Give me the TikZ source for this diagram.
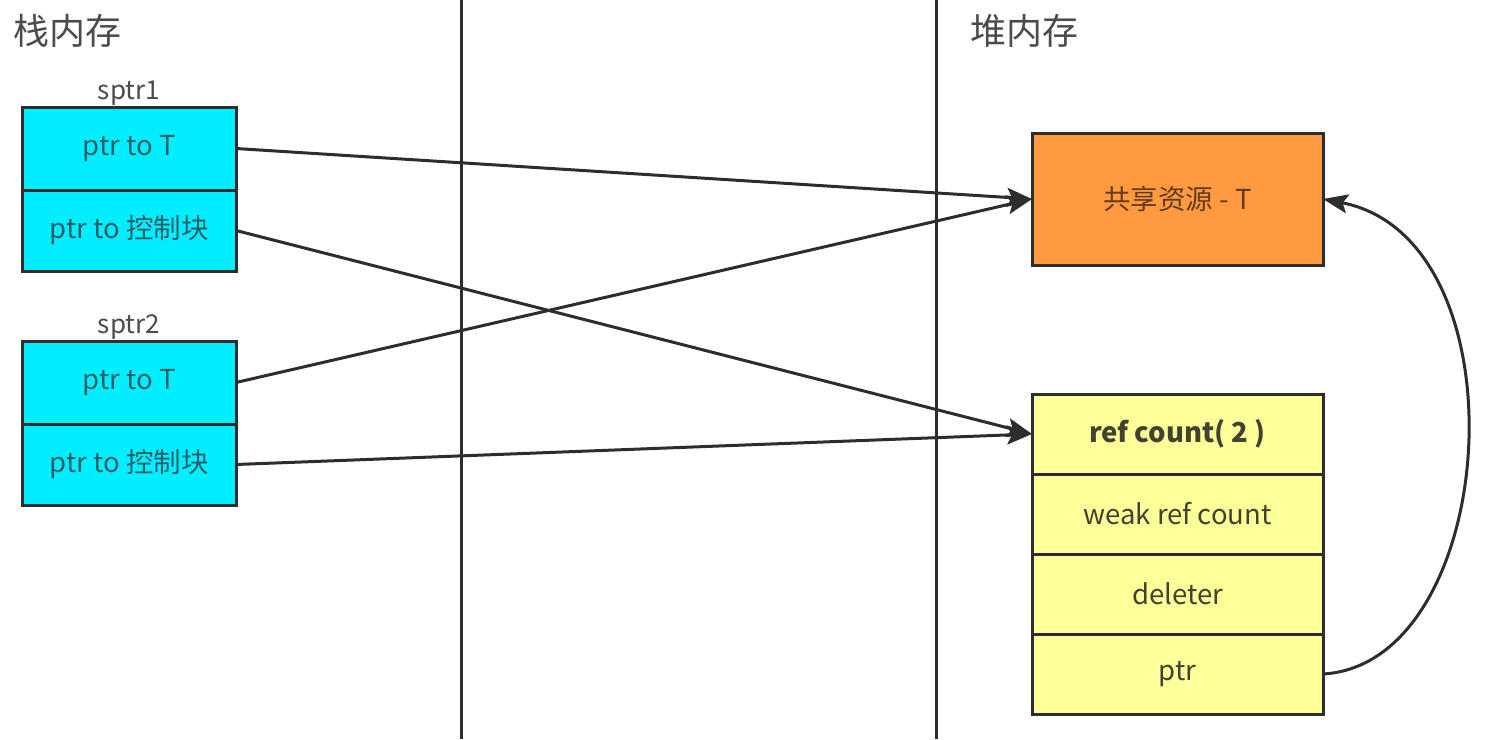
\documentclass[tikz,border=0pt]{standalone}
\usepackage{fontspec}
\setmainfont{Noto Sans CJK SC}
\usetikzlibrary{positioning,arrows.meta}
\definecolor{boxline}{RGB}{45,45,45}
\definecolor{stackcyan}{RGB}{0,238,255}
\definecolor{stacktext}{RGB}{40,95,105}
\definecolor{resorange}{RGB}{255,154,64}
\definecolor{restext}{RGB}{100,60,28}
\definecolor{heapyellow}{RGB}{255,255,153}
\definecolor{heaptext}{RGB}{66,66,48}
\definecolor{titlegray}{RGB}{75,75,75}
\begin{document}
\begin{tikzpicture}[x=1pt,y=-1pt,
  cell/.style={draw=boxline,line width=3pt,outer sep=0pt,inner sep=0pt,font=\fontsize{27.5}{32}\selectfont},
  stackcell/.style={cell,fill=stackcyan,text=stacktext,minimum width=214pt,minimum height=81pt},
  heapcell/.style={cell,fill=heapyellow,text=heaptext,minimum width=291pt,minimum height=80pt},
  resbox/.style={cell,fill=resorange,text=restext,minimum width=291pt,minimum height=132pt},
  ptrname/.style={text=titlegray,inner sep=1pt,font=\fontsize{26}{30}\selectfont},
  memtitle/.style={text=titlegray,inner sep=0pt,font=\fontsize{36}{42}\selectfont},
  link/.style={draw=boxline,line width=3pt,-{Stealth[length=25pt,width=19pt,inset=5pt]}}]
\useasboundingbox (0,0) rectangle (1488,739);
\draw [boxline,line width=3pt] (461,0) -- (461,739);
\draw [boxline,line width=3pt] (936,0) -- (936,739);
\node [memtitle,anchor=west] (stacktitle) at (13,31) {栈内存};
\node [memtitle,anchor=west] (heaptitle) at (970,31) {堆内存};
\node [stackcell,minimum height=83pt] (aT) at (129,148.5) {ptr to T};
\node [stackcell,below=0pt of aT] (aC) {ptr to 控制块};
\node [ptrname,above=0pt of aT] (aname) {sptr1};
\node [stackcell,minimum height=83pt] (bT) at (129,382.5) {ptr to T};
\node [stackcell,below=0pt of bT] (bC) {ptr to 控制块};
\node [ptrname,above=0pt of bT] (bname) {sptr2};
\node [resbox] (res) at (1177.5,199) {共享资源 - T};
\node [heapcell] (rc) at (1177.5,434) {\bfseries ref count( 2 )};
\node [heapcell,below=0pt of rc] (wc) {weak ref count};
\node [heapcell,below=0pt of wc] (del) {deleter};
\node [heapcell,below=0pt of del] (ptr) {ptr};
\draw [link] (aT.east) -- (res.west);
\draw [link] (aC.east) -- (rc.west);
\draw [link] (bT.east) -- (res.west);
\draw [link] (bC.east) -- (rc.west);
\draw [link] (ptr.east) .. controls +(177,-10) and +(205,40) .. (res.east);
\end{tikzpicture}
\end{document}
